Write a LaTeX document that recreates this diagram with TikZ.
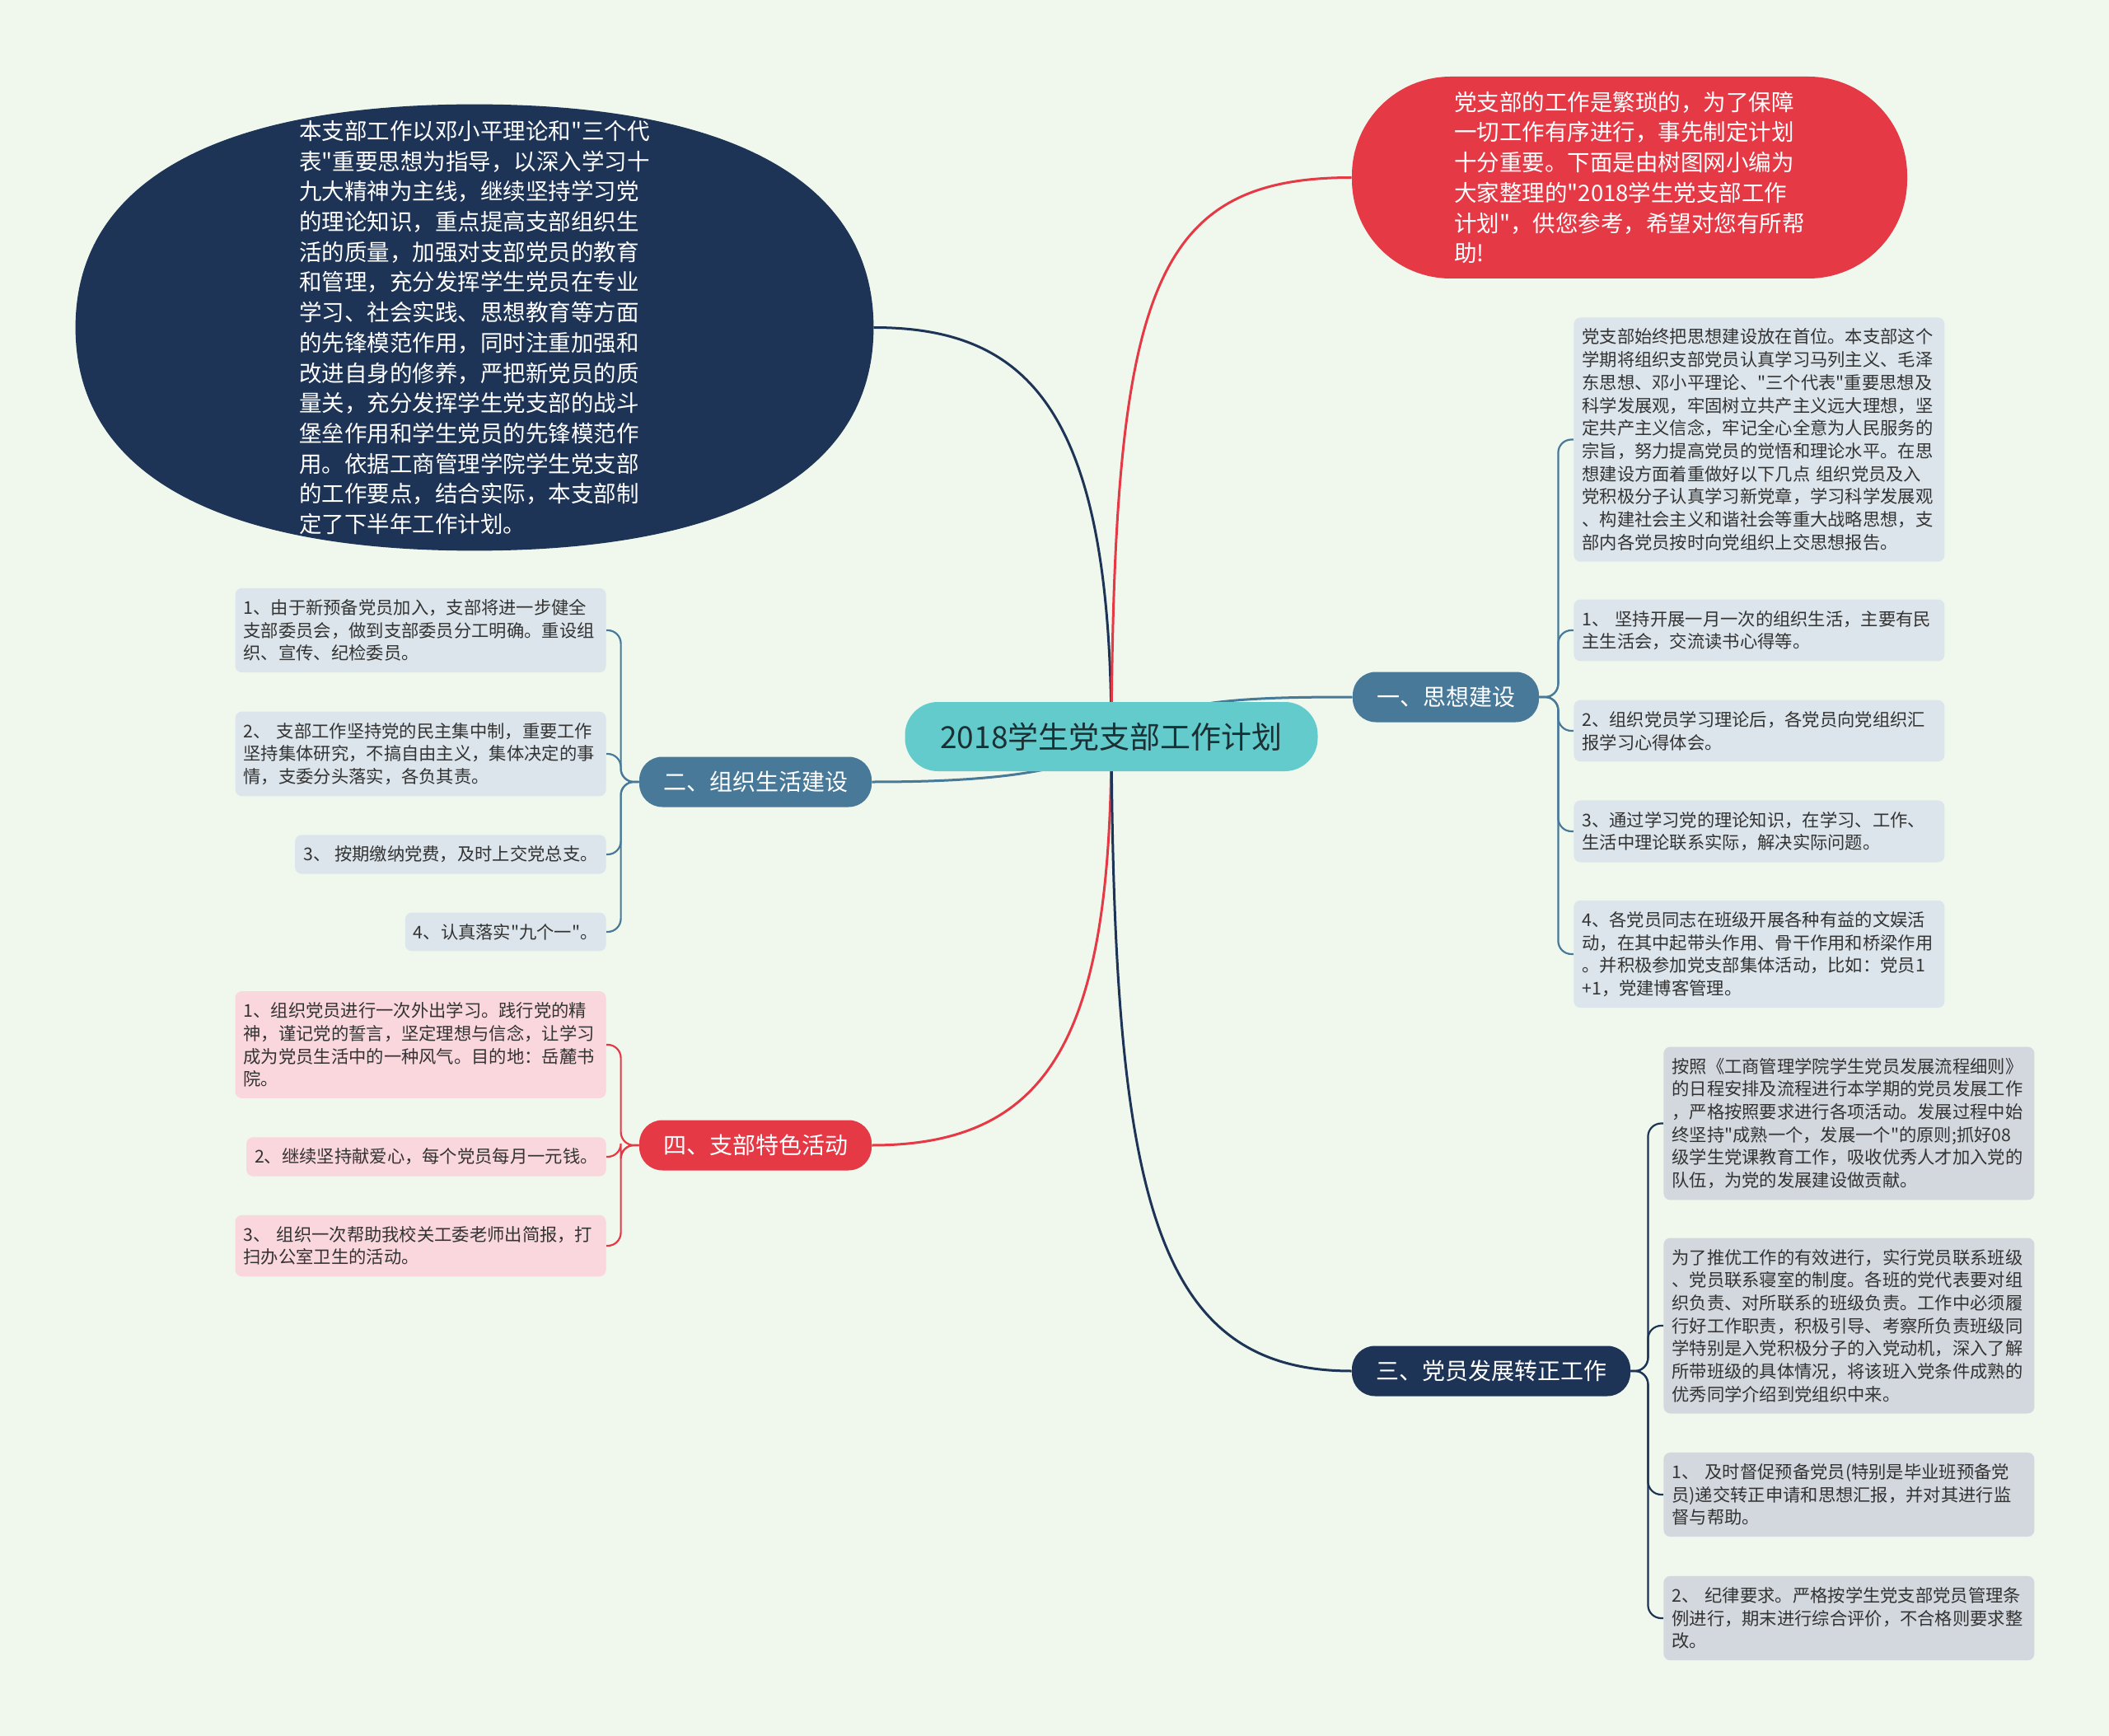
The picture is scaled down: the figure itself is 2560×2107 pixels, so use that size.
\documentclass[tikz,border=0pt]{standalone}
\usepackage{fontspec}
\newfontfamily\cjkfont{Noto Sans CJK SC}

\definecolor{bgcol}{RGB}{240,248,238}
\definecolor{teal0}{RGB}{99,203,204}
\definecolor{roottext}{RGB}{28,48,52}
\definecolor{steel}{RGB}{72,121,152}
\definecolor{navy}{RGB}{29,52,86}
\definecolor{redc}{RGB}{230,57,70}
\definecolor{bluebox}{RGB}{220,229,235}
\definecolor{graybox}{RGB}{211,216,223}
\definecolor{pinkbox}{RGB}{250,214,221}
\definecolor{boxtext}{RGB}{51,51,51}

\pgfdeclarelayer{back}
\pgfdeclarelayer{bg}
\pgfsetlayers{back,bg,main}

\tikzset{
  rootnode/.style={fill=teal0, rounded corners=20pt, minimum width=250.5pt, minimum height=42pt,
    text=roottext, font=\cjkfont\fontsize{18.5pt}{22pt}\selectfont},
  branchnode/.style={rounded corners=14pt, minimum height=30.5pt, inner xsep=14.5pt, text=white,
    font=\cjkfont\fontsize{14pt}{17pt}\selectfont},
  bigtext/.style={text=white, align=left, font=\cjkfont\fontsize{13.75pt}{18.35pt}\selectfont},
  detail/.style={rounded corners=4pt, inner xsep=5pt, inner ysep=6.75pt, text=boxtext, align=left,
    font=\cjkfont\fontsize{10.65pt}{13.85pt}\selectfont},
  wide/.style={text width=215pt},
  link/.style={line width=1.5pt},
  sublink/.style={line width=1.1pt, rounded corners=8pt},
}

\begin{document}
\begin{tikzpicture}[x=0.5pt,y=-0.5pt]
  \begin{pgfonlayer}{back}
    \fill[bgcol] (0,0) rectangle (2560,2107);
  \end{pgfonlayer}
  \useasboundingbox (0,0) rectangle (2560,2107);

  % centre
  \node[rootnode] (root) at (1349,894) {2018学生党支部工作计划};

  % two big notes at the top
  \node[bigtext, minimum width=484pt, minimum height=270.5pt] (intro) at (576,397.5)
    {本支部工作以邓小平理论和"三个代\\表"重要思想为指导，以深入学习十\\九大精神为主线，继续坚持学习党\\的理论知识，重点提高支部组织生\\活的质量，加强对支部党员的教育\\和管理，充分发挥学生党员在专业\\学习、社会实践、思想教育等方面\\的先锋模范作用，同时注重加强和\\改进自身的修养，严把新党员的质\\量关，充分发挥学生党支部的战斗\\堡垒作用和学生党员的先锋模范作\\用。依据工商管理学院学生党支部\\的工作要点，结合实际，本支部制\\定了下半年工作计划。};
  \node[bigtext, fill=redc, rounded corners=60pt, minimum width=337pt, minimum height=122.5pt] (note) at (1978,215.5)
    {党支部的工作是繁琐的，为了保障\\一切工作有序进行，事先制定计划\\十分重要。下面是由树图网小编为\\大家整理的"2018学生党支部工作\\计划"，供您参考，希望对您有所帮\\助!};

  % branches
  \node[branchnode, fill=steel] (think) at (1755,846) {一、思想建设};
  \node[branchnode, fill=steel] (org) at (917,949) {二、组织生活建设};
  \node[branchnode, fill=navy] (grow) at (1810,1664) {三、党员发展转正工作};
  \node[branchnode, fill=redc] (act) at (917,1390) {四、支部特色活动};

  % 一
  \node[detail, wide, fill=bluebox, anchor=west] (think0) at (1910,533.5)
    {党支部始终把思想建设放在首位。本支部这个\\学期将组织支部党员认真学习马列主义、毛泽\\东思想、邓小平理论、"三个代表"重要思想及\\科学发展观，牢固树立共产主义远大理想，坚\\定共产主义信念，牢记全心全意为人民服务的\\宗旨，努力提高党员的觉悟和理论水平。在思\\想建设方面着重做好以下几点 组织党员及入\\党积极分子认真学习新党章，学习科学发展观\\、构建社会主义和谐社会等重大战略思想，支\\部内各党员按时向党组织上交思想报告。};
  \node[detail, wide, fill=bluebox, anchor=west] (think1) at (1910,765)
    {1、 坚持开展一月一次的组织生活，主要有民\\主生活会，交流读书心得等。};
  \node[detail, wide, fill=bluebox, anchor=west] (think2) at (1910,887)
    {2、组织党员学习理论后，各党员向党组织汇\\报学习心得体会。};
  \node[detail, wide, fill=bluebox, anchor=west] (think3) at (1910,1009)
    {3、通过学习党的理论知识，在学习、工作、\\生活中理论联系实际，解决实际问题。};
  \node[detail, wide, fill=bluebox, anchor=west] (think4) at (1910,1158)
    {4、各党员同志在班级开展各种有益的文娱活\\动，在其中起带头作用、骨干作用和桥梁作用\\。并积极参加党支部集体活动，比如：党员1\\+1，党建博客管理。};

  % 二
  \node[detail, wide, fill=bluebox, anchor=east] (org1) at (736,765)
    {1、由于新预备党员加入，支部将进一步健全\\支部委员会，做到支部委员分工明确。重设组\\织、宣传、纪检委员。};
  \node[detail, wide, fill=bluebox, anchor=east] (org2) at (736,915)
    {2、 支部工作坚持党的民主集中制，重要工作\\坚持集体研究，不搞自由主义，集体决定的事\\情，支委分头落实，各负其责。};
  \node[detail, fill=bluebox, anchor=east] (org3) at (736,1037) {3、 按期缴纳党费，及时上交党总支。};
  \node[detail, fill=bluebox, anchor=east] (org4) at (736,1131) {4、认真落实"九个一"。};

  % 四
  \node[detail, wide, fill=pinkbox, anchor=east] (act1) at (736,1268)
    {1、组织党员进行一次外出学习。践行党的精\\神，谨记党的誓言，坚定理想与信念，让学习\\成为党员生活中的一种风气。目的地：岳麓书\\院。};
  \node[detail, fill=pinkbox, anchor=east] (act2) at (736,1404) {2、继续坚持献爱心，每个党员每月一元钱。};
  \node[detail, wide, fill=pinkbox, anchor=east] (act3) at (736,1512)
    {3、 组织一次帮助我校关工委老师出简报，打\\扫办公室卫生的活动。};

  % 三
  \node[detail, wide, fill=graybox, anchor=west] (grow1) at (2019,1363.5)
    {按照《工商管理学院学生党员发展流程细则》\\的日程安排及流程进行本学期的党员发展工作\\，严格按照要求进行各项活动。发展过程中始\\终坚持"成熟一个，发展一个"的原则;抓好08\\级学生党课教育工作，吸收优秀人才加入党的\\队伍，为党的发展建设做贡献。};
  \node[detail, wide, fill=graybox, anchor=west] (grow2) at (2019,1609)
    {为了推优工作的有效进行，实行党员联系班级\\、党员联系寝室的制度。各班的党代表要对组\\织负责、对所联系的班级负责。工作中必须履\\行好工作职责，积极引导、考察所负责班级同\\学特别是入党积极分子的入党动机，深入了解\\所带班级的具体情况，将该班入党条件成熟的\\优秀同学介绍到党组织中来。};
  \node[detail, wide, fill=graybox, anchor=west] (grow3) at (2019,1814)
    {1、 及时督促预备党员(特别是毕业班预备党\\员)递交转正申请和思想汇报，并对其进行监\\督与帮助。};
  \node[detail, wide, fill=graybox, anchor=west] (grow4) at (2019,1964)
    {2、 纪律要求。严格按学生党支部党员管理条\\例进行，期末进行综合评价，不合格则要求整\\改。};

  \begin{pgfonlayer}{bg}
    % navy note shape
    \fill[navy] (intro.west) .. controls +(0,-175.8) and +(-314.6,0) .. (intro.north)
      .. controls +(314.6,0) and +(0,-175.8) .. (intro.east)
      .. controls +(0,175.8) and +(314.6,0) .. (intro.south)
      .. controls +(-314.6,0) and +(0,175.8) .. (intro.west) -- cycle;

    % main links
    \draw[link, steel] (root.center) .. controls (1420,850) and (1500,846) .. (think.west);
    \draw[link, steel] (root.center) .. controls (1320,945) and (1150,949) .. (org.east);
    \draw[link, navy] (root.center) .. controls (1349,500) and (1250,397.5) .. (intro.east);
    \draw[link, redc] (root.center) .. controls (1352,350) and (1400,215.5) .. (note.west);
    \draw[link, redc] (root.center) .. controls (1349,1250) and (1280,1390) .. (act.east);
    \draw[link, navy] (root.center) .. controls (1352,1450) and (1400,1664) .. (grow.west);

    % sub links
    \foreach \k in {0,...,4}
      \draw[sublink, steel] (think.east) -- ++(23,0) |- (think\k.west);
    \foreach \k in {1,...,4}
      \draw[sublink, steel] (org.west) -- ++(-22,0) |- (org\k.east);
    \foreach \k in {1,2,3}
      \draw[sublink, redc] (act.west) -- ++(-22,0) |- (act\k.east);
    \foreach \k in {1,...,4}
      \draw[sublink, navy] (grow.east) -- ++(21,0) |- (grow\k.west);
  \end{pgfonlayer}
\end{tikzpicture}
\end{document}
